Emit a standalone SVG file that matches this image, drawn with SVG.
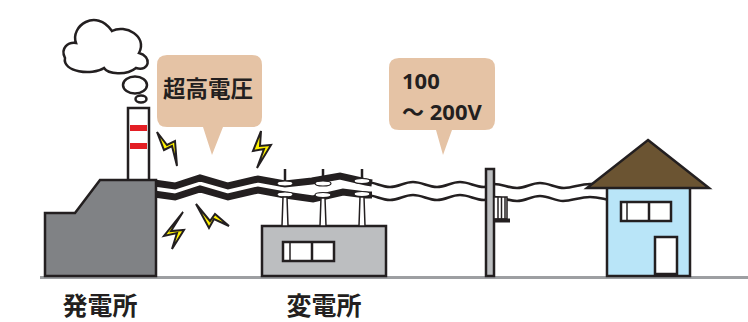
<svg xmlns="http://www.w3.org/2000/svg" width="748" height="322" viewBox="0 0 748 322">
  <style>
    .ink { stroke: #231f20; stroke-width: 2.5; stroke-linejoin: miter; }
    .thin { stroke: #231f20; stroke-width: 1.5; }
    .hv { fill: none; stroke: #231f20; stroke-width: 7; stroke-linejoin: miter; }
    .lv { fill: none; stroke: #231f20; stroke-width: 2.6; }
    .bolt { fill: #fff200; stroke: #231f20; stroke-width: 2; stroke-linejoin: miter; }
    .bubble { fill: #e5c3a5; }
    .disc { fill: #ffffff; stroke: #231f20; stroke-width: 1.2; }
    .label { font-family: "Noto Sans CJK JP", "Noto Sans", sans-serif; font-weight: 700; fill: #231f20; }
    .num { font-family: "Noto Sans", "Noto Sans CJK JP", sans-serif; font-weight: 700; fill: #231f20; }
  </style>

  <!-- ground -->
  <line id="ground" x1="40" y1="277.5" x2="748" y2="277.5" stroke="#9d9fa2" stroke-width="3"/>

  <!-- power lines -->
  <g id="connectors">
    <polyline class="hv" points="154,183 175,186 200,178 228,186 258,179 285,184 312,181 340,176 366,182 372,183"/>
    <polyline class="hv" points="154,194 175,197 200,189 228,197 258,190 285,195 313,199 343,192 366,195 372,195"/>
    <path class="lv" d="M 362,182 L 366,182 C 375,182 381,187 390,187 C 399,187 404,182 413,182 C 422,182 428,187 437,187 C 446,187 451,182 460,182 C 469,182 475,187 484,187 C 488,187 490,184 494,184 C 503,184 508,188 517,188 C 526,188 531,183 540,183 C 549,183 555,188 564,188 C 573,188 580,184 590,184 L 600,184"/>
    <path class="lv" d="M 362,195 L 366,195 C 375,195 381,200 390,200 C 399,200 404,195 413,195 C 422,195 428,200 437,200 C 446,200 451,195 460,195 C 469,195 475,200 484,200 C 488,200 490,197 494,197 C 503,197 508,201 517,201 C 526,201 531,196 540,196 C 549,196 555,201 563,201 C 572,201 580,197 590,197 C 598,197 603,199 609,200"/>
  </g>

  <!-- power plant with chimney -->
  <g id="plant">
    <rect class="ink" x="128" y="108" width="21" height="74" fill="#ffffff"/>
    <rect x="130" y="125" width="17" height="6" fill="#e31e24"/>
    <rect x="130" y="143" width="17" height="6" fill="#e31e24"/>
    <polygon class="ink" points="45,276 45,213 75,213 100,180 156,180 156,276" fill="#808285"/>
  </g>

  <!-- smoke cloud -->
  <g id="smoke">
    <path class="ink" fill="#ffffff" d="M 76,43 C 70,26 96,8 112,31 C 125,24 148,36 139,53 C 152,56 150,72 136,68 C 126,76 108,74 104,68 C 92,76 62,72 65,58 C 60,48 68,42 76,43 Z"/>
    <ellipse class="ink" cx="135" cy="85" rx="12" ry="8.5" fill="#ffffff"/>
    <ellipse class="ink" cx="141" cy="99" rx="5.5" ry="3.5" fill="#ffffff"/>
  </g>

  <!-- substation with insulators -->
  <g id="substation">
    <rect class="ink" x="262" y="226" width="124" height="50" fill="#bcbec0"/>
    <rect class="ink" x="283" y="242" width="51" height="19" fill="#ffffff"/>
    <line class="ink" x1="312" y1="242" x2="312" y2="261"/>
    <line class="thin" x1="290" y1="242" x2="290" y2="261"/>
    <g id="insulator-1">
      <line class="ink" x1="285" y1="169" x2="285" y2="183" stroke-width="2"/>
      <ellipse class="disc" cx="285" cy="183.5" rx="8" ry="2.5"/>
      <ellipse class="disc" cx="285" cy="194.5" rx="8" ry="2.5"/>
      <polygon class="thin" points="283,197 287,197 288,226 282,226" fill="#ffffff"/>
    </g>
    <g id="insulator-2">
      <line class="ink" x1="323" y1="169" x2="323" y2="183" stroke-width="2"/>
      <ellipse class="disc" cx="323" cy="183.5" rx="8" ry="2.5"/>
      <ellipse class="disc" cx="323" cy="195" rx="8" ry="2.5"/>
      <polygon class="thin" points="321,198 325,198 326,226 320,226" fill="#ffffff"/>
    </g>
    <g id="insulator-3">
      <line class="ink" x1="362" y1="169" x2="362" y2="181" stroke-width="2"/>
      <ellipse class="disc" cx="362" cy="181" rx="8" ry="2.5"/>
      <ellipse class="disc" cx="362" cy="194" rx="8" ry="2.5"/>
      <polygon class="thin" points="360,197 364,197 365,226 359,226" fill="#ffffff"/>
    </g>
  </g>

  <!-- utility pole with transformer -->
  <g id="pole">
    <rect class="ink" x="486" y="169" width="8" height="107" fill="#bcbec0" stroke-width="2"/>
    <rect class="thin" x="494" y="197" width="13" height="22" fill="#ffffff"/>
    <line class="thin" x1="498" y1="197" x2="498" y2="219"/>
    <line class="thin" x1="501.5" y1="197" x2="501.5" y2="219"/>
    <line class="thin" x1="505" y1="197" x2="505" y2="219"/>
    <rect x="494" y="218.5" width="16" height="4" fill="#231f20"/>
  </g>

  <!-- house -->
  <g id="house">
    <rect class="ink" x="607" y="187" width="83" height="89" fill="#b9e5f8"/>
    <polygon class="ink" points="648,140 709,188 587,188" fill="#6b5432"/>
    <rect class="ink" x="621" y="202" width="50" height="19" fill="#ffffff"/>
    <line class="ink" x1="649" y1="202" x2="649" y2="221"/>
    <line class="thin" x1="627" y1="202" x2="627" y2="221"/>
    <rect class="ink" x="655" y="237" width="22" height="37" fill="#ffffff"/>
  </g>

  <!-- callouts -->
  <g id="callout-high">
    <path class="bubble" d="M 167,55 H 252 Q 262,55 262,65 V 117 Q 262,127 252,127 H 223 L 212,155 L 203,127 H 167 Q 157,127 157,117 V 65 Q 157,55 167,55 Z"/>
    <text class="label" x="208" y="97" font-size="22.5" text-anchor="middle">超高電圧</text>
  </g>
  <g id="callout-low">
    <path class="bubble" d="M 399,58 H 485 Q 495,58 495,68 V 120 Q 495,130 485,130 H 452 L 443,155 L 436,130 H 399 Q 389,130 389,120 V 68 Q 389,58 399,58 Z"/>
    <text class="num" x="402" y="89" font-size="22">100</text>
    <text class="num" x="402" y="120" font-size="22">～ 200V</text>
  </g>

  <!-- sparks -->
  <g id="sparks">
    <polygon class="bolt" points="157,132 164,150 172,146 177,166 175,141 167,145"/>
    <polygon class="bolt" points="261,131 253,151 264,149 257,168 271,145 260,146"/>
    <polygon class="bolt" points="183,212 164,236 177,233 172,249 184,230 171,231"/>
    <polygon class="bolt" points="196,204 209,228 214,219 229,226 215,214 210,221"/>
  </g>

  <!-- labels -->
  <g id="labels">
    <text class="label" x="100" y="315" font-size="25" text-anchor="middle">発電所</text>
    <text class="label" x="324" y="315" font-size="25" text-anchor="middle">変電所</text>
  </g>
</svg>
